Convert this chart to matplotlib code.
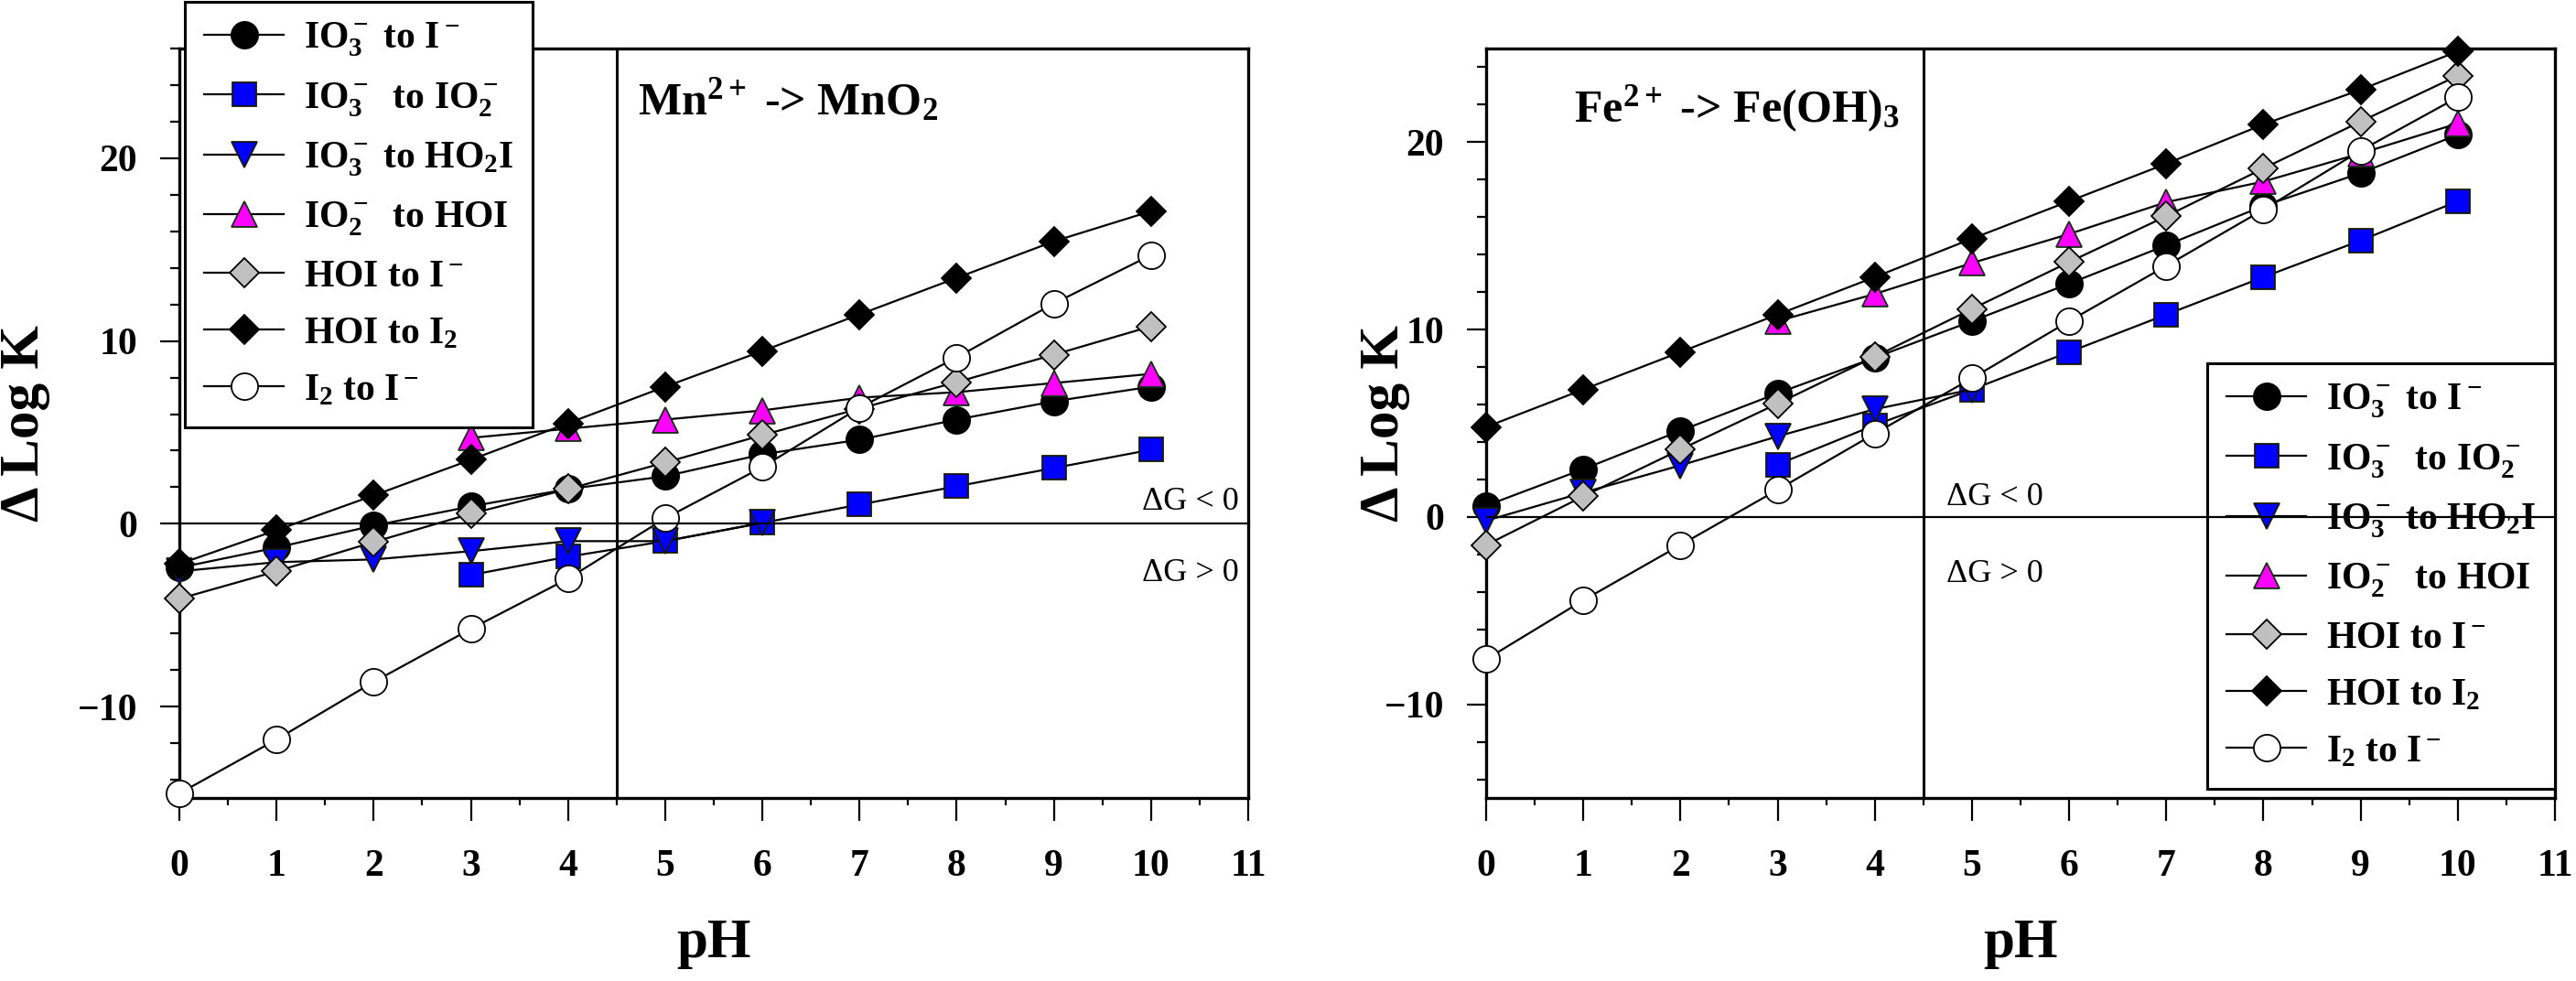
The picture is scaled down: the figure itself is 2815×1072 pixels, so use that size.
import matplotlib
matplotlib.use("Agg")
import matplotlib.pyplot as plt
from matplotlib.ticker import MultipleLocator, FixedLocator

plt.rcParams['font.family'] = ['Liberation Serif', 'DejaVu Serif']
plt.rcParams['font.weight'] = 'bold'
plt.rcParams['mathtext.fontset'] = 'custom'
plt.rcParams['mathtext.rm'] = 'Liberation Serif:bold'
plt.rcParams['mathtext.it'] = 'Liberation Serif:bold'
plt.rcParams['mathtext.bf'] = 'Liberation Serif:bold'
plt.rcParams['mathtext.default'] = 'rm'

# ---------------- data ----------------
pH_all = [0, 1, 2, 3, 4, 5, 6, 7, 8, 9, 10]
pH_io2 = [3, 4, 5, 6, 7, 8, 9, 10]
pH_ho2i_mn = [0, 1, 2, 3, 4, 5, 6]
pH_ho2i_fe = [0, 1, 2, 3, 4, 5]

series_labels = [
    r"IO$_3^-$ to I$^-$",
    r"IO$_3^-$  to IO$_2^-$",
    r"IO$_3^-$ to HO$_2$I",
    r"IO$_2^-$  to HOI",
    r"HOI to I$^-$",
    r"HOI to I$_2$",
    r"I$_2$ to I$^-$",
]

# Mn2+ -> MnO2 panel
mn_io3_i = [-2.4, -1.3, -0.1, 0.95, 1.9, 2.6, 3.8, 4.6, 5.7, 6.7, 7.5]
mn_io3_io2 = [-2.8, -1.8, -0.95, 0.05, 1.05, 2.05, 3.05, 4.05]
mn_io3_ho2i = [-2.6, -2.1, -1.95, -1.5, -0.95, -0.95, 0.05]
mn_io2_hoi = [4.7, 5.2, 5.7, 6.2, 6.9, 7.2, 7.7, 8.2]
mn_hoi_i = [-4.1, -2.6, -1.0, 0.55, 1.9, 3.35, 4.85, 6.3, 7.75, 9.25, 10.8]
mn_hoi_i2 = [-2.2, -0.35, 1.55, 3.5, 5.5, 7.5, 9.45, 11.45, 13.45, 15.45, 17.1]
mn_i2_i = [-14.75, -11.8, -8.65, -5.75, -3.0, 0.3, 3.1, 6.35, 9.1, 12.05, 14.7]

# Fe2+ -> Fe(OH)3 panel
fe_io3_i = [0.6, 2.55, 4.6, 6.6, 8.5, 10.45, 12.45, 14.5, 16.6, 18.35, 20.4]
fe_io3_io2 = [2.8, 4.9, 6.8, 8.8, 10.8, 12.8, 14.75, 16.85]
fe_io3_ho2i = [-0.2, 1.3, 2.75, 4.3, 5.75, 6.8]
fe_io2_hoi = [10.45, 11.9, 13.55, 15.1, 16.8, 17.9, 19.4, 21.0]
fe_hoi_i = [-1.5, 1.1, 3.6, 6.05, 8.55, 11.1, 13.6, 16.05, 18.6, 21.1, 23.55]
fe_hoi_i2 = [4.8, 6.8, 8.8, 10.8, 12.8, 14.85, 16.85, 18.85, 20.95, 22.8, 24.85]
fe_i2_i = [-7.6, -4.45, -1.5, 1.45, 4.45, 7.4, 10.45, 13.4, 16.4, 19.55, 22.4]

panel_titles = [r"Mn$^{2+}$ -> MnO$_2$", r"Fe$^{2+}$ -> Fe(OH)$_3$"]
x_ticks = [0, 1, 2, 3, 4, 5, 6, 7, 8, 9, 10, 11]
y_ticks = [-10, 0, 10, 20]

# ---------------- styles ----------------
styles = [
    dict(marker='o', mfc='black', mec='black', ms=21),
    dict(marker='s', mfc='#0000FF', mec='#1a1a00', ms=18.5),
    dict(marker='v', mfc='#0000FF', mec='#1a1a00', ms=20),
    dict(marker='^', mfc='#FF00FF', mec='#103010', ms=20),
    dict(marker='D', mfc='#C0C0C0', mec='black', ms=16),
    dict(marker='D', mfc='black', mec='black', ms=16),
    dict(marker='o', mfc='white', mec='black', ms=21),
]

fig = plt.figure(figsize=(28.15, 10.72), dpi=100)
W, H = 2815.0, 1072.0
axL = fig.add_axes([196 / W, 1 - 872 / H, 1168 / W, 819 / H])
axR = fig.add_axes([1624 / W, 1 - 872 / H, 1168 / W, 819 / H])


def draw_panel(ax, xs_list, ys_list, ylim):
    handles = []
    for xs, ys, st, lab in zip(xs_list, ys_list, styles, series_labels):
        h, = ax.plot(xs, ys, color='black', lw=1.6, mew=1.3, clip_on=False,
                     label=lab, zorder=3, **st)
        handles.append(h)
    ax.set_xlim(0, 11)
    ax.set_ylim(*ylim)
    ax.axvline(4.5, color='black', lw=2.2, zorder=2)
    ax.axhline(0, color='black', lw=1.6, zorder=10)
    for s in ax.spines.values():
        s.set_linewidth(2.4)
    ax.xaxis.set_major_locator(FixedLocator(x_ticks))
    ax.xaxis.set_minor_locator(MultipleLocator(0.5))
    ax.yaxis.set_major_locator(FixedLocator(y_ticks))
    ax.yaxis.set_minor_locator(MultipleLocator(2))
    ax.tick_params(axis='x', which='major', direction='out', length=18, width=1.6,
                   pad=22, labelsize=30)
    ax.tick_params(axis='x', which='minor', direction='out', length=6, width=1.6)
    ax.tick_params(axis='y', which='major', direction='out', length=15, width=1.6,
                   pad=18, labelsize=30)
    ax.tick_params(axis='y', which='minor', direction='out', length=7.5, width=1.6)
    ax.tick_params(top=False, right=False, which='both')
    for lbl in ax.get_xticklabels() + ax.get_yticklabels():
        lbl.set_fontweight('bold')
    ax.set_xlabel("pH", fontsize=44, fontweight='bold')
    ax.set_ylabel("Δ Log K", fontsize=44, fontweight='bold')
    ax.xaxis.label.set_va('top')
    ax.yaxis.label.set_va('center')
    return handles


hL = draw_panel(axL,
                [pH_all, pH_io2, pH_ho2i_mn, pH_io2, pH_all, pH_all, pH_all],
                [mn_io3_i, mn_io3_io2, mn_io3_ho2i, mn_io2_hoi, mn_hoi_i, mn_hoi_i2, mn_i2_i],
                (-15, 26))
hR = draw_panel(axR,
                [pH_all, pH_io2, pH_ho2i_fe, pH_io2, pH_all, pH_all, pH_all],
                [fe_io3_i, fe_io3_io2, fe_io3_ho2i, fe_io2_hoi, fe_hoi_i, fe_hoi_i2, fe_i2_i],
                (-15, 25))

axL.xaxis.set_label_coords(0.5, -0.16)
axR.xaxis.set_label_coords(0.5, -0.16)
axL.yaxis.set_label_coords(-0.145, 0.5)
axR.yaxis.set_label_coords(-0.095, 0.5)

# titles inside panels
axL.text(4.72, 22.4, panel_titles[0], fontsize=36, fontweight='bold', va='baseline', ha='left')
axR.text(0.9, 21.1, panel_titles[1], fontsize=36, fontweight='bold', va='baseline', ha='left')

# Delta G annotations
axL.text(10.9, 0.76, "ΔG < 0", fontsize=26, fontweight='normal', ha='right', va='baseline')
axL.text(10.9, -3.16, "ΔG > 0", fontsize=26, fontweight='normal', ha='right', va='baseline')
axR.text(4.74, 0.61, "ΔG < 0", fontsize=26, fontweight='normal', ha='left', va='baseline')
axR.text(4.74, -3.45, "ΔG > 0", fontsize=26, fontweight='normal', ha='left', va='baseline')

leg_kw = dict(loc='upper left', bbox_transform=fig.transFigure, borderaxespad=0,
              frameon=True, fancybox=False, edgecolor='black',
              framealpha=1, handlelength=2.1, handletextpad=0.53, labelspacing=0.57,
              borderpad=0.5, prop={'weight': 'bold', 'size': 30})
legL = axL.legend(handles=hL, bbox_to_anchor=(202 / W, 1 - 2 / H), **leg_kw)
legR = axR.legend(handles=hR, bbox_to_anchor=(2412 / W, 1 - 397 / H), **leg_kw)
for lg in (legL, legR):
    lg.get_frame().set_linewidth(2.2)
    lg.set_zorder(8)

fig.savefig("out.png", dpi=100)
